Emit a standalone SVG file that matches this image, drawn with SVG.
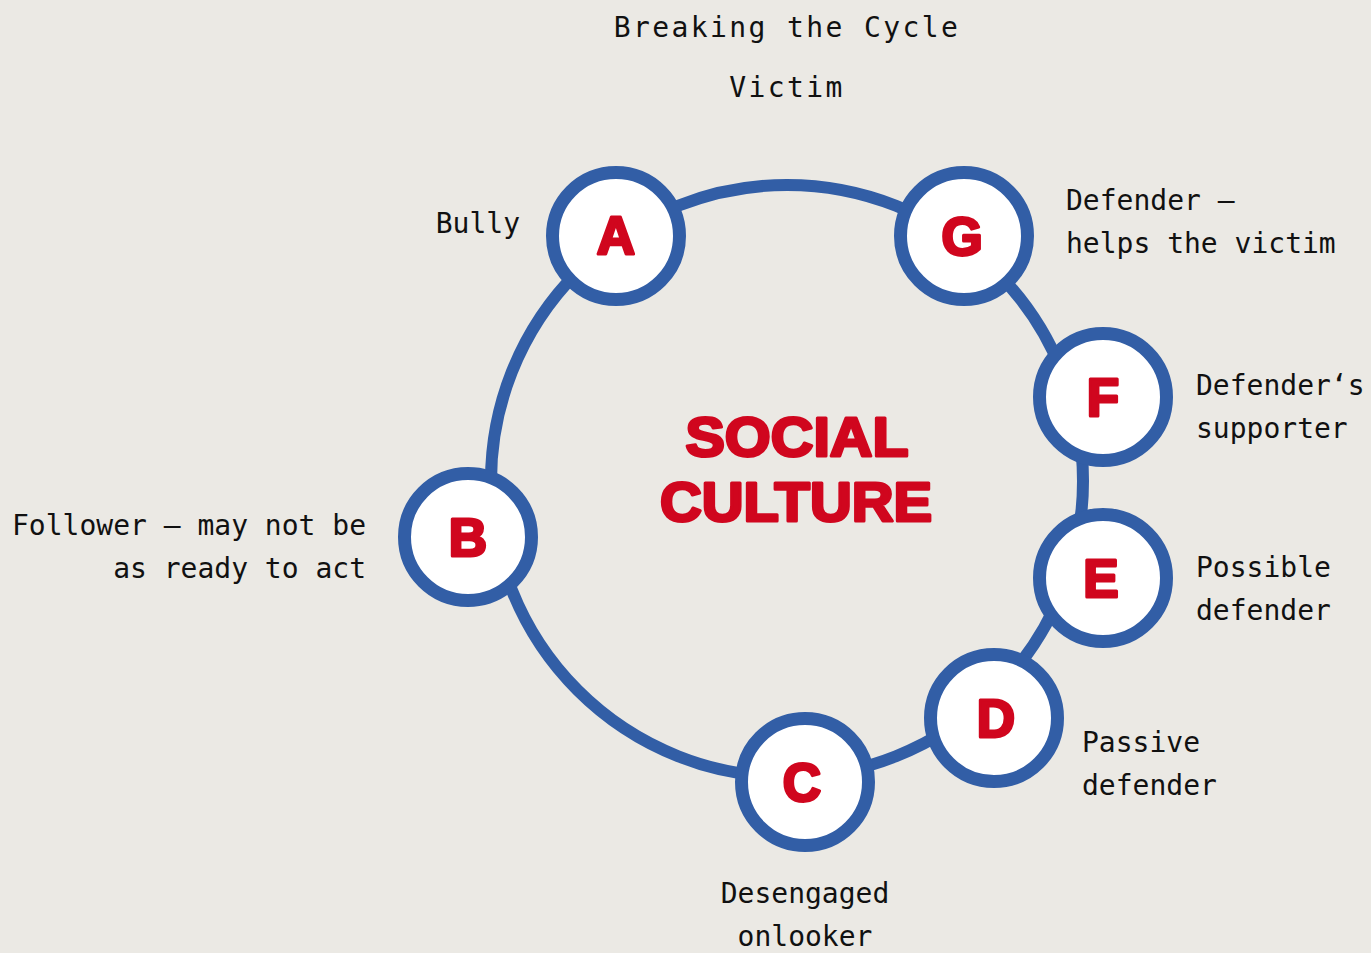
<svg xmlns="http://www.w3.org/2000/svg" width="1371" height="953" viewBox="0 0 1371 953">
<style>
.bg{fill:#ebe9e4}
.ring{fill:none;stroke:#325ea6;stroke-width:12}
.node{fill:#ffffff;stroke:#325ea6;stroke-width:13}
.letter{font-family:"Liberation Sans","DejaVu Sans",sans-serif;font-weight:900;font-size:53px;fill:#d0061e;stroke:#d0061e;stroke-width:3;stroke-linejoin:round;text-anchor:middle}
.big{font-family:"Liberation Sans","DejaVu Sans",sans-serif;font-weight:900;font-size:56px;fill:#d0061e;stroke:#d0061e;stroke-width:3;stroke-linejoin:round;text-anchor:middle}
.title{font-family:"DejaVu Sans Mono","Liberation Mono",monospace;font-size:28px;fill:#111;letter-spacing:2.4px;text-anchor:middle}
.lbl{font-family:"DejaVu Sans Mono","Liberation Mono",monospace;font-size:28px;fill:#111}
</style>
<rect class="bg" x="0" y="0" width="1371" height="953"/>
<g id="connectors">
<circle class="ring" cx="787" cy="481" r="296"/>
</g>
<g id="title">
<text class="title" x="787" y="37">Breaking the Cycle</text>
<text class="title" x="787" y="97">Victim</text>
</g>
<g id="center">
<text class="big" x="797" y="456" textLength="223" lengthAdjust="spacingAndGlyphs">SOCIAL</text>
<text class="big" x="796" y="521" textLength="272" lengthAdjust="spacingAndGlyphs">CULTURE</text>
</g>
<g id="node-A">
<circle class="node" cx="616" cy="236" r="63.5"/>
<text class="letter" x="616" y="254">A</text>
<text class="lbl" x="520" y="233" text-anchor="end">Bully</text>
</g>
<g id="node-B">
<circle class="node" cx="468" cy="537" r="63.5"/>
<text class="letter" x="468" y="556">B</text>
<text class="lbl" x="366" y="535" text-anchor="end">Follower – may not be</text>
<text class="lbl" x="366" y="578" text-anchor="end">as ready to act</text>
</g>
<g id="node-C">
<circle class="node" cx="805" cy="782" r="63.5"/>
<text class="letter" x="802" y="801">C</text>
<text class="lbl" x="805" y="903" text-anchor="middle">Desengaged</text>
<text class="lbl" x="805" y="946" text-anchor="middle">onlooker</text>
</g>
<g id="node-D">
<circle class="node" cx="994" cy="718" r="63.5"/>
<text class="letter" x="996" y="737">D</text>
<text class="lbl" x="1082" y="752">Passive</text>
<text class="lbl" x="1082" y="795">defender</text>
</g>
<g id="node-E">
<circle class="node" cx="1103" cy="578" r="63.5"/>
<text class="letter" x="1101" y="597">E</text>
<text class="lbl" x="1196" y="577">Possible</text>
<text class="lbl" x="1196" y="620">defender</text>
</g>
<g id="node-F">
<circle class="node" cx="1103" cy="397" r="63.5"/>
<text class="letter" x="1103" y="416">F</text>
<text class="lbl" x="1196" y="395">Defender‘s</text>
<text class="lbl" x="1196" y="438">supporter</text>
</g>
<g id="node-G">
<circle class="node" cx="964" cy="236" r="63.5"/>
<text class="letter" x="962" y="255">G</text>
<text class="lbl" x="1066" y="210">Defender –</text>
<text class="lbl" x="1066" y="253">helps the victim</text>
</g>
</svg>
